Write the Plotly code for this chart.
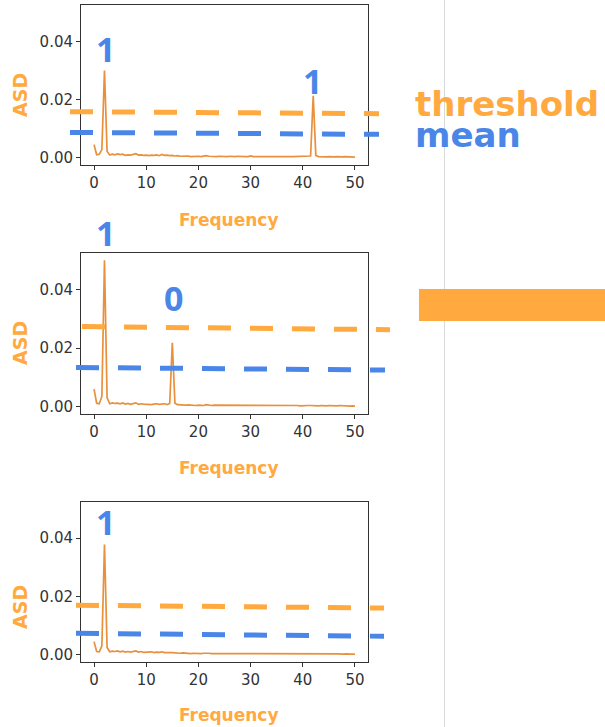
import plotly.graph_objects as go

# ---------------- data ----------------
freq = [0.0, 0.5, 1.0, 1.5, 2.0, 2.5, 3.0, 3.5, 4.0, 4.5,
        5.0, 5.5, 6.0, 6.5, 7.0, 7.5, 8.0, 8.5, 9.0, 9.5,
        10.0, 10.5, 11.0, 11.5, 12.0, 12.5, 13.0, 13.5, 14.0, 14.5,
        15.0, 15.5, 16.0, 16.5, 17.0, 17.5, 18.0, 18.5, 19.0, 19.5,
        20.0, 20.5, 21.0, 21.5, 22.0, 22.5, 23.0, 23.5, 24.0, 24.5,
        25.0, 25.5, 26.0, 26.5, 27.0, 27.5, 28.0, 28.5, 29.0, 29.5,
        30.0, 30.5, 31.0, 31.5, 32.0, 32.5, 33.0, 33.5, 34.0, 34.5,
        35.0, 35.5, 36.0, 36.5, 37.0, 37.5, 38.0, 38.5, 39.0, 39.5,
        40.0, 40.5, 41.0, 41.5, 42.0, 42.5, 43.0, 43.5, 44.0, 44.5,
        45.0, 45.5, 46.0, 46.5, 47.0, 47.5, 48.0, 48.5, 49.0, 49.5, 50.0]

asd_1 = [0.0045, 0.0010, 0.0012, 0.0028, 0.0300, 0.0022, 0.0009, 0.0012, 0.0010, 0.0013,
         0.0011, 0.0012, 0.0008, 0.0010, 0.0009, 0.0011, 0.0014, 0.0009, 0.0010, 0.0008,
         0.0009, 0.0007, 0.0009, 0.0008, 0.0010, 0.0007, 0.0011, 0.0008, 0.0009, 0.0007,
         0.0008, 0.0006, 0.0007, 0.0005, 0.0006, 0.0005, 0.0006, 0.0004, 0.0005, 0.0004,
         0.0005, 0.0004, 0.0005, 0.0007, 0.0005, 0.0004, 0.0005, 0.0004, 0.0005, 0.0004,
         0.0005, 0.0004, 0.0005, 0.0004, 0.0004, 0.0005, 0.0004, 0.0005, 0.0004, 0.0004,
         0.0006, 0.0004, 0.0005, 0.0004, 0.0004, 0.0005, 0.0004, 0.0004, 0.0005, 0.0004,
         0.0004, 0.0005, 0.0004, 0.0004, 0.0005, 0.0004, 0.0004, 0.0004, 0.0005, 0.0004,
         0.0004, 0.0004, 0.0004, 0.0006, 0.0213, 0.0008, 0.0004, 0.0003, 0.0004, 0.0003,
         0.0004, 0.0003, 0.0003, 0.0004, 0.0003, 0.0003, 0.0004, 0.0003, 0.0003, 0.0003, 0.0002]

asd_2 = [0.0060, 0.0012, 0.0010, 0.0035, 0.0500, 0.0030, 0.0010, 0.0013, 0.0011, 0.0012,
         0.0010, 0.0013, 0.0009, 0.0011, 0.0008, 0.0010, 0.0013, 0.0008, 0.0010, 0.0009,
         0.0008, 0.0009, 0.0007, 0.0009, 0.0010, 0.0008, 0.0009, 0.0010, 0.0007, 0.0011,
         0.0218, 0.0012, 0.0007, 0.0006, 0.0007, 0.0005, 0.0006, 0.0005, 0.0006, 0.0004,
         0.0005, 0.0005, 0.0004, 0.0007, 0.0005, 0.0004, 0.0005, 0.0005, 0.0004, 0.0005,
         0.0004, 0.0005, 0.0004, 0.0005, 0.0004, 0.0004, 0.0005, 0.0004, 0.0005, 0.0004,
         0.0006, 0.0004, 0.0004, 0.0005, 0.0004, 0.0005, 0.0004, 0.0004, 0.0004, 0.0005,
         0.0004, 0.0004, 0.0005, 0.0004, 0.0004, 0.0004, 0.0005, 0.0004, 0.0004, 0.0003,
         0.0004, 0.0003, 0.0004, 0.0004, 0.0003, 0.0004, 0.0003, 0.0004, 0.0003, 0.0003,
         0.0004, 0.0003, 0.0003, 0.0003, 0.0004, 0.0003, 0.0003, 0.0003, 0.0002, 0.0003, 0.0002]

asd_3 = [0.0045, 0.0011, 0.0010, 0.0030, 0.0378, 0.0025, 0.0010, 0.0012, 0.0011, 0.0013,
         0.0010, 0.0012, 0.0009, 0.0011, 0.0009, 0.0012, 0.0013, 0.0009, 0.0011, 0.0008,
         0.0009, 0.0008, 0.0010, 0.0007, 0.0009, 0.0008, 0.0010, 0.0007, 0.0008, 0.0007,
         0.0007, 0.0006, 0.0007, 0.0005, 0.0006, 0.0005, 0.0005, 0.0004, 0.0005, 0.0004,
         0.0005, 0.0004, 0.0005, 0.0006, 0.0005, 0.0004, 0.0004, 0.0005, 0.0004, 0.0004,
         0.0005, 0.0004, 0.0004, 0.0005, 0.0004, 0.0004, 0.0005, 0.0004, 0.0004, 0.0004,
         0.0005, 0.0004, 0.0004, 0.0004, 0.0005, 0.0004, 0.0004, 0.0004, 0.0004, 0.0005,
         0.0004, 0.0004, 0.0004, 0.0003, 0.0004, 0.0004, 0.0004, 0.0003, 0.0004, 0.0004,
         0.0003, 0.0004, 0.0003, 0.0003, 0.0004, 0.0003, 0.0003, 0.0003, 0.0004, 0.0003,
         0.0003, 0.0003, 0.0003, 0.0003, 0.0003, 0.0002, 0.0003, 0.0003, 0.0002, 0.0003, 0.0002]

threshold_start = [0.01583, 0.02736, 0.01700]
threshold_end = [0.01515, 0.02630, 0.01600]
mean_start = [0.00871, 0.01340, 0.00735]
mean_end = [0.00803, 0.01250, 0.00633]

peak_labels = [["1", "1"], ["1", "0"], ["1"]]
x_tick_vals = [0, 10, 20, 30, 40, 50]
x_tick_text = ["0", "10", "20", "30", "40", "50"]
y_tick_vals = [0.00, 0.02, 0.04]
y_tick_text = ["0.00", "0.02", "0.04"]
legend_labels = ["threshold", "mean"]
axis_x_title = "Frequency"
axis_y_title = "ASD"

# ---------------- style ----------------
W, H = 605, 727
ORANGE = "#ffa93f"
BLUE = "#4a86e8"
LINE = "#e8903c"
AX = "#333333"


def px(x):
    return x / W


def py(y):
    return 1 - y / H


series = [asd_1, asd_2, asd_3]
frames_y = [(5, 165), (253, 414), (501.7, 662)]
frame_x = (81, 368)

fig = go.Figure()
for i, s in enumerate(series):
    n = "" if i == 0 else str(i + 1)
    fig.add_trace(go.Scatter(
        x=freq, y=s, mode="lines", xaxis="x" + n, yaxis="y" + n,
        line=dict(color=LINE, width=1.7), showlegend=False, hoverinfo="skip"))
    t, b = frames_y[i]
    fig.layout["xaxis" + n] = dict(
        domain=[px(frame_x[0]), px(frame_x[1])], anchor="y" + n, automargin=False,
        range=[-2.5, 52.5], tickvals=x_tick_vals, ticktext=x_tick_text,
        ticks="outside", ticklen=4, tickcolor=AX, showline=True, mirror=True,
        linecolor=AX, linewidth=1, showgrid=False, zeroline=False,
        tickfont=dict(family="DejaVu Sans", size=15, color=AX))
    fig.layout["yaxis" + n] = dict(
        domain=[py(b), py(t)], anchor="x" + n, automargin=False,
        range=[-0.0025, 0.0525], tickvals=y_tick_vals, ticktext=y_tick_text,
        ticks="outside", ticklen=4, tickcolor=AX, showline=True, mirror=True,
        linecolor=AX, linewidth=1, showgrid=False, zeroline=False,
        tickfont=dict(family="DejaVu Sans", size=15, color=AX))

# dashed threshold / mean lines (extend past the frame)
dash_x = [((70, 379), (70, 379)), ((82, 390), (76, 385)), ((76, 384), (76, 384))]
shapes = []
for i in range(3):
    n = "" if i == 0 else str(i + 1)
    (ox0, ox1), (bx0, bx1) = dash_x[i]
    shapes.append(dict(type="line", xref="paper", yref="y" + n,
                       x0=px(ox0), x1=px(ox1), y0=threshold_start[i], y1=threshold_end[i],
                       line=dict(color=ORANGE, width=5, dash="23px,19px")))
    shapes.append(dict(type="line", xref="paper", yref="y" + n,
                       x0=px(bx0), x1=px(bx1), y0=mean_start[i], y1=mean_end[i],
                       line=dict(color=BLUE, width=5, dash="23px,19px")))

# divider and arrow bar
shapes.append(dict(type="line", xref="paper", yref="paper", x0=px(444.5), x1=px(444.5),
                   y0=0, y1=1, line=dict(color="#d9d9d9", width=1)))
shapes.append(dict(type="rect", xref="paper", yref="paper", x0=px(419), x1=1.0,
                   y0=py(321), y1=py(289), fillcolor=ORANGE, line=dict(width=0)))

annotations = []
asd_font = dict(family="DejaVu Sans", size=19, color=ORANGE, weight="bold")
freq_font = dict(family="DejaVu Sans", size=17, color=ORANGE, weight="bold")
asd_y = [95, 343, 607]
freq_y = [220, 468, 715]
for i in range(3):
    annotations.append(dict(text=axis_y_title, xref="paper", yref="paper", x=px(20), y=py(asd_y[i]),
                            textangle=-90, showarrow=False, font=asd_font,
                            xanchor="center", yanchor="middle"))
    annotations.append(dict(text=axis_x_title, xref="paper", yref="paper", x=px(229), y=py(freq_y[i]),
                            showarrow=False, font=freq_font, xanchor="center", yanchor="middle"))

digit_pos = [[(105, 51), (312, 83)], [(105, 235), (174, 299.5)], [(105.5, 524)]]
digit_font = dict(family="Open Sans", size=34, color=BLUE, weight="bold")
for i in range(3):
    for lab, (xx, yy) in zip(peak_labels[i], digit_pos[i]):
        annotations.append(dict(text=lab, xref="paper", yref="paper", x=px(xx), y=py(yy - 2),
                                showarrow=False, font=digit_font, xanchor="center", yanchor="middle"))

annotations.append(dict(text=legend_labels[0], xref="paper", yref="paper", x=px(413), y=py(104),
                        showarrow=False, xanchor="left", yanchor="middle",
                        font=dict(family="DejaVu Sans", size=34, color=ORANGE, weight="bold")))
annotations.append(dict(text=legend_labels[1], xref="paper", yref="paper", x=px(413), y=py(134.5),
                        showarrow=False, xanchor="left", yanchor="middle",
                        font=dict(family="DejaVu Sans", size=34, color=BLUE, weight="bold")))

fig.update_layout(width=W, height=H, margin=dict(l=0, r=0, t=0, b=0),
                  paper_bgcolor="white", plot_bgcolor="white",
                  shapes=shapes, annotations=annotations, showlegend=False)

fig.write_html("out.html")
